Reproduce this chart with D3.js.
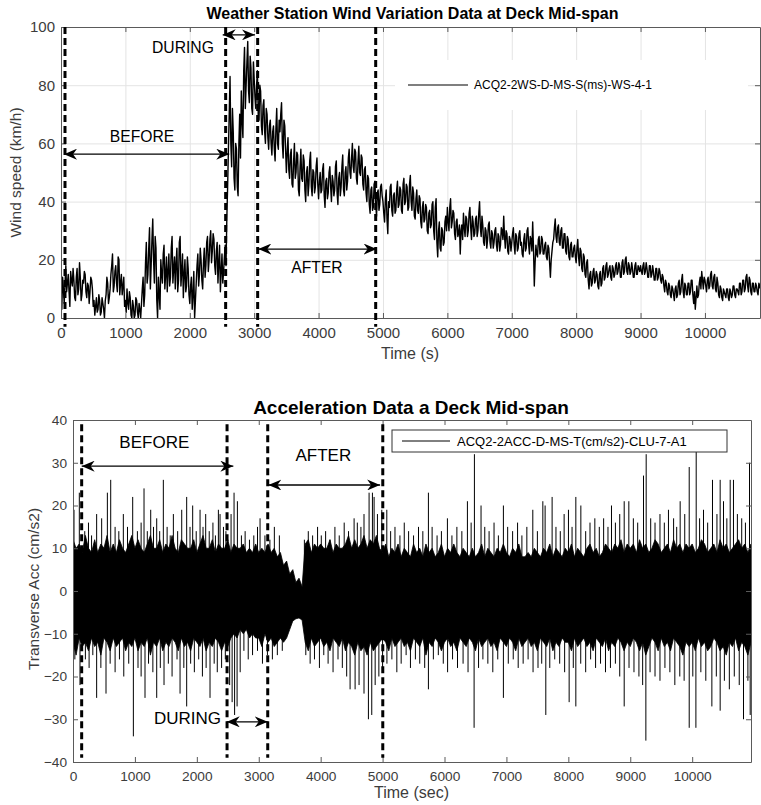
<!DOCTYPE html>
<html>
<head>
<meta charset="utf-8">
<script src="https://cdn.jsdelivr.net/npm/d3@7"></script>
<style>
  body { margin: 0; background: #fff; }
  svg { display: block; font-family: "Liberation Sans", Arial, Helvetica, sans-serif; }
</style>
</head>
<body>
<svg id="chart" width="761" height="805"></svg>
<script>
// ---------- Wind speed record (km/h), one reading every 25 s ----------
const windStep = 25;
const windSpeed = [
  8,14,5,18,12,9,16,11,13,6,17,10,14,8,12,15,7,11,9,13,
  4,1,7,3,6,2,5,0,8,12,7,15,22,11,18,9,20,12,8,14,
  6,10,3,7,0,4,1,6,0,3,5,14,8,26,15,31,18,34,12,24,
  0,8,20,12,25,15,9,22,14,28,17,10,24,13,28,16,7,20,11,17,
  5,14,8,0,12,22,15,20,10,24,18,28,20,30,23,27,15,26,19,9,
  22,16,25,34,58,83,52,64,44,58,42,70,78,62,93,80,95,74,86,70,
  82,72,85,68,78,63,75,60,70,58,68,56,66,54,72,58,64,74,55,66,
  50,62,48,58,45,60,50,56,42,58,47,54,40,52,46,57,42,50,45,55,
  41,50,44,53,38,48,43,52,40,47,44,54,39,50,45,56,42,52,47,58,
  48,60,50,57,46,59,49,55,44,52,40,48,36,45,38,47,35,44,39,46,
  40,33,44,29,38,46,35,43,37,47,39,44,36,48,40,45,38,49,37,43,
  34,44,36,41,31,40,34,38,29,37,32,40,27,41,21,33,23,30,26,35,
  38,30,41,33,36,27,34,29,22,32,36,28,34,30,38,27,33,29,35,30,
  40,28,32,25,30,27,33,24,29,26,31,23,28,25,30,35,24,29,22,27,
  26,31,22,28,24,30,26,21,29,24,31,22,27,33,11,25,21,28,23,27,
  22,26,20,24,14,23,27,34,26,32,25,31,24,29,22,27,20,26,21,25,
  19,27,18,23,16,21,14,20,10,16,12,17,13,15,10,16,12,18,14,19,
  15,18,13,17,15,19,16,18,14,20,16,21,15,18,16,17,14,19,15,17,
  18,15,19,16,17,14,18,15,16,13,17,14,16,12,14,9,12,8,11,7,
  10,6,11,8,13,9,15,7,11,8,12,9,13,5,3,11,8,14,16,10,
  13,9,14,11,16,10,15,9,12,7,10,6,9,7,10,6,9,8,11,7,
  10,8,12,9,13,10,15,9,13,8,12,9,11,8,11
];
// readings taken half a step after each of the above
const windSpeedMid = [
  3,10,12,9,15,4,13,17,7,14,8,19,6,13,16,9,12,5,14,10,
  6,4,2,8,1,7,3,6,14,5,10,18,9,16,12,21,8,15,11,4,
  2,5,9,1,6,0,7,2,5,0,10,4,19,12,24,10,27,20,28,6,
  14,3,15,22,10,21,16,11,24,12,21,19,9,26,11,22,15,9,21,8,
  11,3,16,6,18,11,24,13,19,14,26,16,27,19,29,18,23,12,25,16,
  12,21,18,45,70,60,72,48,60,45,60,55,68,85,72,88,78,90,72,88,
  76,80,70,80,66,73,64,72,62,66,60,64,58,65,60,68,70,60,68,58,
  57,51,56,46,54,48,57,44,52,48,56,44,50,42,54,45,51,43,52,46,
  47,43,51,42,47,41,50,45,49,42,52,43,48,42,52,44,50,44,55,50,
  55,52,58,48,54,50,56,46,51,43,49,39,44,37,46,39,43,37,45,42,
  36,41,34,40,45,37,42,36,44,38,45,37,46,39,46,37,46,40,45,35,
  41,37,42,33,38,33,39,30,36,31,39,30,38,26,30,24,31,25,33,30,
  33,38,31,37,29,33,28,32,30,27,31,35,28,36,31,35,28,34,28,36,
  31,35,26,31,24,32,26,30,24,30,25,29,23,31,27,28,30,23,28,23,
  29,25,29,23,29,25,22,27,23,30,25,28,23,24,19,22,27,22,28,22,
  25,21,25,19,20,26,31,28,31,26,30,24,29,23,28,21,25,21,24,21,
  24,21,24,17,22,15,19,13,15,11,16,12,16,11,15,11,17,13,18,14,
  17,14,18,14,18,15,19,14,19,15,20,16,19,15,19,14,18,15,18,16,
  16,18,15,19,14,18,14,18,13,17,13,17,13,15,11,13,9,12,8,11,
  8,10,7,12,8,13,9,12,8,12,8,13,8,9,7,7,12,10,13,14,
  11,13,10,15,11,14,10,14,8,11,7,10,8,10,7,10,7,11,8,10,
  9,12,8,13,9,14,11,14,9,12,9,12,9,12,10
];
const windTimeTicks = [0,1000,2000,3000,4000,5000,6000,7000,8000,9000,10000];
const windSpeedTicks = [0,20,40,60,80,100];
// phase boundaries (s)
const windPhaseMarks = [62, 2557, 3054, 4887];
// phase arrows: start time, end time, height (km/h)
const windArrowFrom = [47, 2511, 3064];
const windArrowTo   = [2613, 3012, 4902];
const windArrowAt   = [56.3, 97.3, 23.7];
const windPhaseNames = ["BEFORE", "DURING", "AFTER"];
const windNameT = [1258, 1894, 3975];
const windNameV = [62.2, 93.1, 17.5];

// ---------- Transverse acceleration (cm/s2): envelope every 50 s ----------
const accStep = 50;
const accUpper = [
  12,10,11,9,13,10,9,12,9,11,10,13,9,11,9,12,10,9,11,13,
  10,12,10,9,11,13,10,10,12,9,11,10,13,10,9,12,11,10,10,12,
  9,11,13,10,10,12,9,11,10,10,12,9,11,10,10,11,9,10,9,11,
  9,10,9,11,9,10,8,9,6,7,4,5,2,3,1,11,12,9,11,10,
  11,10,10,12,9,11,10,10,11,13,10,12,10,11,13,10,12,11,13,10,
  9,11,8,10,9,11,8,10,9,8,11,9,10,8,11,9,10,8,9,11,
  8,10,9,11,9,8,10,9,8,10,8,9,11,8,10,9,8,10,9,11,
  9,8,10,9,11,8,8,9,8,10,9,8,10,9,11,8,10,9,8,10,
  9,11,8,10,9,8,10,11,9,10,8,9,11,10,9,11,10,12,9,11,
  10,11,9,12,10,11,9,10,12,11,9,10,11,9,12,10,11,9,11,10,
  11,9,10,12,11,9,10,11,9,12,10,11,9,10,11,12,10,11,9,11
];
const accLower = [
  -12,-15,-11,-13,-12,-14,-11,-13,-12,-15,-11,-12,-14,-11,-13,-12,-11,-14,-12,-13,
  -11,-14,-12,-13,-11,-15,-12,-13,-11,-14,-12,-13,-11,-12,-14,-11,-13,-12,-14,-11,
  -12,-13,-11,-14,-12,-13,-11,-12,-14,-12,-13,-11,-10,-11,-9,-10,-9,-11,-10,-11,
  -11,-13,-10,-12,-11,-13,-12,-11,-12,-11,-9,-7,-6.5,-6.3,-6.8,-12,-14,-11,-13,-12,
  -11,-13,-12,-14,-11,-12,-13,-11,-14,-12,-13,-15,-12,-14,-13,-15,-12,-14,-13,-12,
  -11,-12,-14,-11,-13,-12,-11,-13,-12,-14,-11,-12,-13,-11,-15,-12,-13,-11,-12,-14,
  -12,-11,-13,-12,-14,-11,-12,-13,-11,-12,-14,-11,-13,-12,-11,-13,-12,-14,-11,-12,
  -13,-11,-12,-14,-11,-13,-12,-11,-13,-12,-14,-11,-12,-13,-11,-14,-12,-13,-11,-12,
  -12,-14,-11,-13,-12,-11,-13,-12,-14,-11,-12,-13,-11,-14,-12,-13,-11,-12,-14,-12,
  -13,-11,-12,-14,-12,-15,-13,-11,-12,-14,-11,-13,-12,-14,-11,-12,-13,-15,-12,-13,
  -12,-14,-11,-13,-12,-14,-13,-11,-12,-14,-13,-15,-12,-13,-11,-14,-12,-13,-15,-12
];
// individual peaks [time s, acc cm/s2]
const accPeaksUp = [
  [16,19],[102,23],[190,14],[250,16],[300,13],[382,18],[463,17],[555,23],[609,26],[680,15],
  [740,14],[813,18],[880,15],[964,22],[1040,14],[1100,16],[1147,24],[1200,14],[1255,19],[1300,15],
  [1352,17],[1400,14],[1459,26],[1520,15],[1570,13],[1621,18],[1690,14],[1756,19],[1836,22],[1890,15],
  [1933,20],[1990,14],[2052,19],[2100,15],[2143,18],[2200,14],[2260,16],[2300,13],[2348,19],[2375,18],
  [2430,15],[2470,14],[2553,18],[2601,23],[2655,21],[2720,13],[2780,14],[2850,12],[2920,13],[2980,15],
  [3021,17],[3100,13],[3180,12],[3252,15],[3333,13],[3737,12],[3800,14],[3870,13],[3950,15],[4010,13],
  [4080,14],[4150,12],[4230,15],[4300,13],[4380,16],[4450,14],[4540,17],[4592,16],[4650,15],[4700,18],
  [4782,23],[4836,23],[4863,22],[4917,18],[4987,19],[5068,19],[5130,14],[5200,15],[5280,13],[5350,16],
  [5420,14],[5500,13],[5580,15],[5650,14],[5740,23],[5800,15],[5880,13],[5950,14],[6047,17],[6120,13],
  [6200,15],[6280,14],[6370,21],[6430,16],[6483,32],[6590,20],[6650,15],[6720,14],[6800,16],[6870,13],
  [6951,20],[7020,15],[7100,14],[7180,16],[7250,13],[7330,15],[7426,19],[7500,14],[7588,21],[7625,20],
  [7738,22],[7800,15],[7870,14],[7932,18],[8002,19],[8060,15],[8121,22],[8202,20],[8280,14],[8350,16],
  [8428,17],[8500,15],[8570,17],[8640,15],[8697,20],[8760,16],[8830,18],[8902,21],[8977,21],[9050,17],
  [9120,16],[9214,27],[9257,32],[9330,17],[9400,16],[9480,18],[9550,16],[9617,19],[9700,17],[9750,15],
  [9806,21],[9880,18],[9952,29],[10065,33],[10120,17],[10183,19],[10250,16],[10328,26],[10400,18],[10452,26],
  [10506,21],[10560,17],[10614,26],[10667,26],[10730,18],[10800,17],[10860,16],[10926,30]
];
const accPeaksDown = [
  [30,-16],[113,-22],[200,-16],[260,-18],[320,-15],[382,-25],[450,-18],[533,-24],[600,-17],[680,-19],
  [750,-16],[820,-20],[900,-17],[975,-34],[1050,-18],[1100,-20],[1163,-25],[1220,-17],[1290,-19],[1352,-25],
  [1410,-18],[1470,-22],[1540,-17],[1600,-20],[1680,-16],[1729,-24],[1790,-18],[1836,-27],[1900,-17],[1960,-19],
  [2030,-16],[2090,-20],[2150,-18],[2213,-25],[2280,-17],[2330,-19],[2400,-18],[2460,-16],[2530,-22],[2570,-26],
  [2610,-29],[2650,-27],[2700,-19],[2760,-14],[2830,-16],[2900,-15],[2980,-14],[3060,-17],[3140,-15],[3220,-16],
  [3300,-15],[3380,-14],[3760,-15],[3830,-17],[3900,-16],[3980,-18],[4050,-15],[4120,-17],[4200,-19],[4280,-16],
  [4350,-18],[4420,-20],[4475,-23],[4556,-23],[4620,-22],[4700,-24],[4771,-30],[4825,-29],[4880,-22],[4940,-20],
  [5000,-18],[5070,-17],[5150,-16],[5230,-19],[5300,-17],[5380,-15],[5450,-18],[5530,-16],[5600,-17],[5680,-18],
  [5740,-23],[5820,-16],[5900,-15],[5980,-17],[6050,-19],[6130,-16],[6210,-18],[6300,-17],[6380,-19],[6478,-32],
  [6550,-18],[6620,-16],[6700,-17],[6780,-19],[6860,-16],[6951,-25],[7030,-17],[7110,-16],[7190,-18],[7270,-17],
  [7350,-16],[7430,-19],[7510,-18],[7570,-17],[7636,-29],[7700,-18],[7780,-16],[7860,-17],[7940,-19],[8013,-26],
  [8080,-18],[8121,-27],[8200,-17],[8280,-19],[8360,-16],[8440,-18],[8520,-17],[8600,-19],[8680,-18],[8760,-17],
  [8830,-20],[8902,-27],[8980,-18],[9060,-19],[9140,-20],[9200,-22],[9252,-35],[9320,-19],[9400,-20],[9480,-21],
  [9560,-18],[9640,-19],[9720,-22],[9800,-20],[9870,-21],[9952,-32],[10010,-20],[10060,-32],[10140,-19],[10220,-21],
  [10318,-27],[10390,-20],[10452,-28],[10520,-21],[10600,-23],[10680,-20],[10760,-22],[10829,-30],[10900,-21],[10937,-29]
];
const accTimeTicks = [0,1000,2000,3000,4000,5000,6000,7000,8000,9000,10000];
const accTicks = [-40,-30,-20,-10,0,10,20,30,40];
const accPhaseMarks = [140, 2488, 3145, 5003];
const accArrowFrom = [140, 2483, 3155];
const accArrowTo   = [2590, 3145, 4960];
const accArrowAt   = [29.2, -30.6, 24.8];
const accPhaseNames = ["BEFORE", "DURING", "AFTER"];
const accNameT = [1313, 1850, 4044];
const accNameV = [34.7, -29.9, 31.6];

// ---------- drawing ----------
const svg = d3.select("#chart");
const defs = svg.append("defs");
defs.append("marker")
  .attr("id", "head")
  .attr("viewBox", "0 0 13 11")
  .attr("refX", 13).attr("refY", 5.5)
  .attr("markerWidth", 13).attr("markerHeight", 11)
  .attr("markerUnits", "userSpaceOnUse")
  .attr("orient", "auto-start-reverse")
  .append("path")
  .attr("d", "M0,0 L13,5.5 L0,11 L4,5.5 Z")
  .attr("fill", "#000");

const AXIS = "#5a5a5a", LABEL = "#3c3c3c";
const plain = d3.format("d");

function styleAxis(g, size) {
  g.attr("font-family", null).attr("font-size", null);
  g.select(".domain").attr("stroke", AXIS).attr("stroke-width", 1);
  g.selectAll(".tick line").attr("stroke", AXIS);
  g.selectAll(".tick text").attr("fill", LABEL).style("font-size", size + "px");
}

function gridLines(g, x, y, xt, yt, x0, x1, y0, y1) {
  g.append("g").attr("transform", `translate(0,${y0})`)
    .call(d3.axisBottom(x).tickValues(xt).tickSize(-(y0 - y1)).tickFormat(""))
    .call(s => s.select(".domain").remove())
    .call(s => s.selectAll(".tick line").attr("stroke", "#e4e4e4"));
  g.append("g").attr("transform", `translate(${x0},0)`)
    .call(d3.axisLeft(y).tickValues(yt).tickSize(-(x1 - x0)).tickFormat(""))
    .call(s => s.select(".domain").remove())
    .call(s => s.selectAll(".tick line").attr("stroke", "#e4e4e4"));
}

function frame(g, x, y, xt, yt, box, size) {
  g.append("g").attr("transform", `translate(0,${box.b})`)
    .call(d3.axisBottom(x).tickValues(xt).tickFormat(plain).tickSize(-5).tickSizeOuter(0).tickPadding(9))
    .call(s => styleAxis(s, size));
  g.append("g").attr("transform", `translate(${box.l},0)`)
    .call(d3.axisLeft(y).tickValues(yt).tickFormat(plain).tickSize(-5).tickSizeOuter(0).tickPadding(6))
    .call(s => styleAxis(s, size));
  g.append("g").attr("transform", `translate(0,${box.t})`)
    .call(d3.axisTop(x).tickValues(xt).tickSize(-5).tickSizeOuter(0).tickFormat(""))
    .call(s => styleAxis(s, size));
  g.append("g").attr("transform", `translate(${box.r},0)`)
    .call(d3.axisRight(y).tickValues(yt).tickSize(-5).tickSizeOuter(0).tickFormat(""))
    .call(s => styleAxis(s, size));
}

function phases(g, x, y, marks, vTop, vBot, from, to, at, names, nt, nv, fsize) {
  g.selectAll("line.mark").data(marks).join("line")
    .attr("class", "mark")
    .attr("x1", d => x(d)).attr("x2", d => x(d))
    .attr("y1", y(vTop)).attr("y2", y(vBot))
    .attr("stroke", "#000").attr("stroke-width", 3)
    .attr("stroke-dasharray", "7,4");
  g.selectAll("line.arrow").data(from).join("line")
    .attr("class", "arrow")
    .attr("x1", d => x(d)).attr("x2", (d, i) => x(to[i]))
    .attr("y1", (d, i) => y(at[i])).attr("y2", (d, i) => y(at[i]))
    .attr("stroke", "#000").attr("stroke-width", 1.3)
    .attr("marker-start", "url(#head)").attr("marker-end", "url(#head)");
  g.selectAll("text.phase").data(names).join("text")
    .attr("class", "phase")
    .attr("x", (d, i) => x(nt[i])).attr("y", (d, i) => y(nv[i]))
    .attr("text-anchor", "middle").attr("dominant-baseline", "central")
    .style("font-size", fsize + "px").attr("fill", "#000")
    .text(d => d);
}

// ===== Panel 1: wind speed =====
{
  const box = { l: 61, r: 760, t: 27, b: 318 };
  const x = d3.scaleLinear().domain([0, 10855]).range([box.l, box.r]);
  const y = d3.scaleLinear().domain([0, 100]).range([box.b, box.t]);
  const g = svg.append("g");

  g.append("rect").attr("x", box.l).attr("y", box.t)
    .attr("width", box.r - box.l).attr("height", box.b - box.t).attr("fill", "#fff");
  gridLines(g, x, y, windTimeTicks, windSpeedTicks, box.l, box.r, box.b, box.t);

  defs.append("clipPath").attr("id", "clipWind").append("rect")
    .attr("x", box.l).attr("y", box.t).attr("width", box.r - box.l).attr("height", box.b - box.t);

  // interleave the two reading sets into one time-ordered record
  const record = windSpeed.flatMap((v, i) => [
    [i * windStep, v],
    [i * windStep + windStep / 2, windSpeedMid[i]]
  ]);
  const line = d3.line().x(d => x(d[0])).y(d => y(d[1]));
  g.append("path").datum(record)
    .attr("clip-path", "url(#clipWind)")
    .attr("d", line).attr("fill", "none")
    .attr("stroke", "#000").attr("stroke-width", 1.4).attr("stroke-linejoin", "round");

  // legend
  g.append("rect").attr("x", 395).attr("y", 60).attr("width", 353).attr("height", 50).attr("fill", "#fff");
  g.append("line").attr("x1", 408).attr("x2", 468).attr("y1", 85).attr("y2", 85)
    .attr("stroke", "#000").attr("stroke-width", 1.2);
  g.append("text").attr("x", 474).attr("y", 85).attr("dominant-baseline", "central")
    .style("font-size", "12px").attr("fill", "#000").text("ACQ2-2WS-D-MS-S(ms)-WS-4-1");

  frame(g, x, y, windTimeTicks, windSpeedTicks, box, 15);
  phases(g, x, y, windPhaseMarks, 100, -3, windArrowFrom, windArrowTo, windArrowAt,
         windPhaseNames, windNameT, windNameV, 15.7);

  g.append("text").attr("x", 412.5).attr("y", 19).attr("text-anchor", "middle")
    .style("font-size", "16px").style("font-weight", "bold").attr("fill", "#000")
    .text("Weather Station Wind Variation Data at Deck Mid-span");
  g.append("text").attr("x", 410).attr("y", 359).attr("text-anchor", "middle")
    .style("font-size", "16px").attr("fill", LABEL).text("Time (s)");
  g.append("text").attr("transform", "translate(15.5,172.5) rotate(-90)")
    .attr("text-anchor", "middle").attr("dominant-baseline", "central")
    .style("font-size", "15.5px").attr("fill", LABEL).text("Wind speed (km/h)");
}

// ===== Panel 2: transverse acceleration =====
{
  const box = { l: 73, r: 751, t: 420, b: 762 };
  const x = d3.scaleLinear().domain([0, 10950]).range([box.l, box.r]);
  const y = d3.scaleLinear().domain([-40, 40]).range([box.b, box.t]);
  const g = svg.append("g");

  defs.append("clipPath").attr("id", "clipAcc").append("rect")
    .attr("x", box.l).attr("y", box.t).attr("width", box.r - box.l).attr("height", box.b - box.t);
  const data = g.append("g").attr("clip-path", "url(#clipAcc)");

  const band = d3.area()
    .x((d, i) => x(i * accStep))
    .y0((d, i) => y(accLower[i]))
    .y1(d => y(d));
  data.append("path").datum(accUpper).attr("d", band)
    .attr("fill", "#000").attr("stroke", "#000").attr("stroke-width", 0.8);

  data.selectAll("line.peak").data(accPeaksUp.concat(accPeaksDown)).join("line")
    .attr("class", "peak")
    .attr("x1", d => x(d[0])).attr("x2", d => x(d[0]))
    .attr("y1", y(0)).attr("y2", d => y(d[1]))
    .attr("stroke", "#000").attr("stroke-width", 1);

  // legend
  g.append("rect").attr("x", 392).attr("y", 430).attr("width", 335).attr("height", 22)
    .attr("fill", "#fff").attr("stroke", "#333").attr("stroke-width", 1);
  g.append("line").attr("x1", 402).attr("x2", 450).attr("y1", 441).attr("y2", 441)
    .attr("stroke", "#000").attr("stroke-width", 1);
  g.append("text").attr("x", 457).attr("y", 441).attr("dominant-baseline", "central")
    .style("font-size", "13px").attr("fill", "#000").text("ACQ2-2ACC-D-MS-T(cm/s2)-CLU-7-A1");

  frame(g, x, y, accTimeTicks, accTicks, box, 13.7);
  phases(g, x, y, accPhaseMarks, 39, -39, accArrowFrom, accArrowTo, accArrowAt,
         accPhaseNames, accNameT, accNameV, 17);

  g.append("text").attr("x", 411).attr("y", 414).attr("text-anchor", "middle")
    .style("font-size", "19px").style("font-weight", "bold").attr("fill", "#000")
    .text("Acceleration Data a Deck Mid-span");
  g.append("text").attr("x", 411.5).attr("y", 798).attr("text-anchor", "middle")
    .style("font-size", "16px").attr("fill", LABEL).text("Time (sec)");
  g.append("text").attr("transform", "translate(33,589) rotate(-90)")
    .attr("text-anchor", "middle").attr("dominant-baseline", "central")
    .style("font-size", "15.5px").attr("fill", LABEL).text("Transverse Acc (cm/s2)");
}
</script>
</body>
</html>
